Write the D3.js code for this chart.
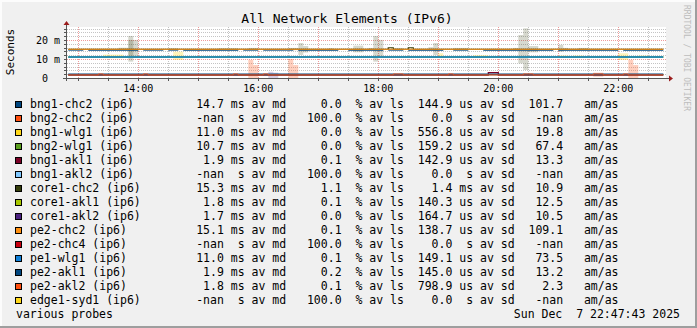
<!DOCTYPE html>
<html>
<head>
<meta charset="utf-8">
<script src="https://cdn.jsdelivr.net/npm/d3@7"></script>
<style>
body{margin:0;background:#f0f0f0;}
text{font-family:'DejaVu Sans Mono',monospace;white-space:pre;}
</style>
</head>
<body>
<script>
const W=697,H=328;

// legend table
const hosts=["bng1-chc2","bng2-chc2","bng1-wlg1","bng2-wlg1","bng1-akl1","bng1-akl2","core1-chc2","core1-akl1","core1-akl2","pe2-chc2","pe2-chc4","pe1-wlg1","pe2-akl1","pe2-akl2","edge1-syd1"];
const medians=["14.7","-nan","11.0","10.7","1.9","-nan","15.3","1.8","1.7","15.1","-nan","11.0","1.9","1.8","-nan"];
const medUnits=["ms","s","ms","ms","ms","s","ms","ms","ms","ms","s","ms","ms","ms","s"];
const losses=["0.0","100.0","0.0","0.0","0.1","100.0","1.1","0.1","0.0","0.1","100.0","0.1","0.2","0.1","100.0"];
const sds=["144.9","0.0","556.8","159.2","142.9","0.0","1.4","140.3","164.7","138.7","0.0","149.1","145.0","798.9","0.0"];
const sdUnits=["us","s","us","us","us","s","ms","us","us","us","s","us","us","us","s"];
const amas=["101.7","-nan","19.8","67.4","13.3","-nan","10.9","12.5","10.5","109.1","-nan","73.5","13.2","2.3","-nan"];
const colors=["#00467f","#ff4f0f","#ffd81a","#5a9e1e","#7a0026","#80c8ff","#333d0a","#a8c800","#4a2080","#ff9010","#c8000f","#1080d8","#00467f","#ff4f0f","#ffd81a"];

const timeTicks=["14:00","16:00","18:00","20:00","22:00"];
const yTicks=[0,10,20];
const yTickLabels=["0  ","10 m","20 m"];

// median lines: [time, ms] change points, null = no data
const END="22:45";
const medBng1Chc2=[["12:50",14.7],["13:05",null],["13:10",14.7],["14:00",null],["14:05",14.7],["14:25",null],["14:30",14.7],["14:40",null],["14:45",14.7],["15:40",null],["15:45",14.7],["16:00",null],["16:05",14.7],["16:35",null],["16:40",14.7],["17:20",null],["17:30",14.7],["18:05",null],["18:10",14.7],["18:25",null],["18:30",14.7],["19:05",null],["19:15",14.7],["19:30",null],["19:45",14.7],["20:55",null],["21:00",14.7],["22:00",null],["22:05",14.7]];
const medBng1Wlg1=[["12:50",11.0]];
const medBng2Wlg1=[["12:50",11.0]];
const medBng1Akl1=[["12:50",1.45],["19:50",2.8],["20:00",1.45]];
const medCore1Chc2=[["12:50",15.1],["18:10",15.9],["18:15",15.1],["18:30",15.9],["18:35",15.1]];
const medCore1Akl1=[["12:50",1.8]];
const medCore1Akl2=[["12:50",1.7]];
const medPe2Chc2=[["12:50",15.1]];
const medPe1Wlg1=[["12:50",11.0]];
const medPe2Akl1=[["12:50",2.0]];
const medPe2Akl2=[["12:50",1.65],["13:20",2.1],["13:25",1.65],["14:05",2.1],["14:10",1.65],["15:35",2.1],["15:40",1.65],["16:05",2.1],["16:10",1.65],["18:15",2.1],["18:25",1.65],["19:10",2.1],["19:15",1.65],["20:25",2.1],["20:35",1.65],["21:35",2.1],["21:45",1.65],["22:05",2.1],["22:10",1.65]];
const medians_data=[medBng1Chc2,null,medBng1Wlg1,medBng2Wlg1,medBng1Akl1,null,medCore1Chc2,medCore1Akl1,medCore1Akl2,medPe2Chc2,null,medPe1Wlg1,medPe2Akl1,medPe2Akl2,null];
const widths=[1.2,1.2,1.4,1.4,1.2,1.2,1.2,1.2,1.2,1.2,1.2,1.6,1.2,0.9,1.2];

// smoke bands: [start, end, low ms, high ms]
const smokeCore1Chc2=[["13:40","13:50",14.7,15.9],["13:50","14:00",10.5,20.0],["13:50","13:55",8.6,22.1],["14:30","14:40",14.7,15.6],["15:20","15:40",14.7,15.6],["15:50","16:00",14.8,15.8],["16:30","16:40",14.6,15.8],["16:40","16:45",12.1,18.4],["16:45","16:50",13.4,16.8],["17:10","17:15",14.6,15.6],["17:35","17:45",13.5,17.0],["17:50","17:55",14.6,15.8],["17:55","18:00",8.6,22.1],["18:00","18:05",10.5,20.0],["18:15","18:25",14.6,15.8],["18:50","18:55",14.6,16.2],["18:55","19:00",12.0,18.4],["19:15","19:30",14.6,15.8],["20:15","20:20",14.6,15.8],["20:20","20:25",7.7,22.6],["20:25","20:30",4.2,26.1],["20:30","20:40",13.5,16.8],["21:00","21:05",13.8,17.4],["21:05","21:10",14.6,15.8],["21:20","21:30",14.6,15.8]];
const smokeBng1Wlg1=[["13:25","13:45",10.4,12.3],["14:35","14:45",9.5,13.8],["14:50","15:00",10.5,11.5],["15:00","15:05",10.5,11.6],["15:25","15:30",10.5,11.6],["18:35","18:50",10.8,11.3],["19:00","19:05",10.5,13.0],["19:35","19:50",10.5,12.0],["21:00","21:10",10.6,11.8],["21:15","21:25",10.6,11.8],["22:00","22:10",9.5,13.0],["22:20","22:30",10.6,11.8]];
const smokePe2Akl2=[["15:50","15:55",0,9.5],["15:55","16:00",0,6.8],["16:30","16:35",0,10.0],["16:35","16:40",0,6.8],["21:35","21:45",0.7,2.8],["22:10","22:15",0,9.5],["22:15","22:20",0,6.8]];
const smokeCore1Akl2=[["16:10","16:15",0,3.3],["16:15","16:20",0,2.8]];
const smokes=[[smokeCore1Chc2,6,0.2],[smokeBng1Wlg1,2,0.3],[smokePe2Akl2,13,0.27],[smokeCore1Akl2,8,0.22]];

const tm=s=>new Date(2025,11,7,+s.slice(0,2),+s.slice(3));

const svg=d3.select('body').append('svg').attr('width',W).attr('height',H);
svg.append('rect').attr('width',W).attr('height',H).attr('fill','#f0f0f0');
svg.append('rect').attr('width',W).attr('height',2).attr('fill','#fcfcfc');
svg.append('rect').attr('width',2).attr('height',H).attr('fill','#fcfcfc');
svg.append('rect').attr('y',H-2).attr('width',W).attr('height',2).attr('fill','#9e9e9e');
svg.append('rect').attr('x',W-2).attr('width',2).attr('height',H).attr('fill','#9e9e9e');

const x=d3.scaleTime().domain([new Date(2025,11,7,12,47,43),new Date(2025,11,7,22,47,43)]).range([66,666]);
const y=d3.scaleLinear().domain([0,26.8]).range([78,27]);

svg.append('rect').attr('x',67).attr('y',27).attr('width',599).attr('height',51).attr('fill','#ffffff');

// grid
const minorT=d3.timeMinute.every(30).range(x.domain()[0],x.domain()[1]).filter(d=>d.getMinutes()===30);
const majorT=d3.timeHour.range(x.domain()[0],x.domain()[1]);
svg.append('g').selectAll('line').data(minorT).join('line')
  .attr('x1',d=>Math.round(x(d))+0.5).attr('x2',d=>Math.round(x(d))+0.5).attr('y1',27).attr('y2',78)
  .attr('stroke','#c4c4c4').attr('stroke-dasharray','1,1');
const minorY=d3.range(2,27,2).filter(v=>v%10!==0);
svg.append('g').selectAll('line').data(minorY).join('line')
  .attr('x1',67).attr('x2',666).attr('y1',d=>Math.round(y(d))+0.5).attr('y2',d=>Math.round(y(d))+0.5)
  .attr('stroke','#c4c4c4').attr('stroke-dasharray','1,1');
svg.append('g').selectAll('line').data(majorT).join('line')
  .attr('x1',d=>Math.round(x(d))+0.5).attr('x2',d=>Math.round(x(d))+0.5).attr('y1',27).attr('y2',78)
  .attr('stroke','#f09a9a').attr('stroke-dasharray','1,1');
svg.append('g').selectAll('line').data([10,20]).join('line')
  .attr('x1',67).attr('x2',666).attr('y1',d=>Math.round(y(d))+0.5).attr('y2',d=>Math.round(y(d))+0.5)
  .attr('stroke','#f09a9a').attr('stroke-dasharray','1,1');

// smoke
smokes.forEach(([bands,ci,op])=>{
  svg.append('g').selectAll('rect').data(bands).join('rect')
    .attr('x',d=>x(tm(d[0]))).attr('width',d=>x(tm(d[1]))-x(tm(d[0])))
    .attr('y',d=>y(d[3])).attr('height',d=>y(d[2])-y(d[3]))
    .attr('fill',colors[ci]).attr('fill-opacity',op);
});

// median lines
function runs(ch){
  const out=[];let cur=null;
  ch.forEach((c,i)=>{
    const t0=tm(c[0]),t1=tm(i<ch.length-1?ch[i+1][0]:END);
    if(c[1]==null){cur=null;return;}
    if(!cur){cur=[];out.push(cur);}
    cur.push([t0,c[1]],[t1,c[1]]);
  });
  return out;
}
const line=d3.line().x(d=>x(d[0])).y(d=>y(d[1]));
medians_data.forEach((ch,i)=>{
  if(!ch) return;
  svg.append('g').selectAll('path').data(runs(ch)).join('path')
    .attr('d',line).attr('fill','none').attr('stroke',colors[i]).attr('stroke-width',widths[i]);
});

// axes
svg.append('line').attr('x1',63).attr('x2',669).attr('y1',78.5).attr('y2',78.5).attr('stroke','#555').attr('stroke-width',1);
svg.append('line').attr('x1',66.5).attr('x2',66.5).attr('y1',81).attr('y2',25).attr('stroke','#555').attr('stroke-width',1);
svg.append('path').attr('d','M669,75.5L673,78.5L669,81.5Z').attr('fill','#9b1c1c');
svg.append('path').attr('d','M63.5,25L66.5,21L69.5,25Z').attr('fill','#9b1c1c');
svg.append('g').selectAll('line').data(minorY.concat([10,20])).join('line')
  .attr('x1',64).attr('x2',66).attr('y1',d=>Math.round(y(d))+0.5).attr('y2',d=>Math.round(y(d))+0.5).attr('stroke','#555');
svg.append('g').selectAll('line').data(minorT.concat(majorT)).join('line')
  .attr('x1',d=>Math.round(x(d))+0.5).attr('x2',d=>Math.round(x(d))+0.5).attr('y1',79).attr('y2',81).attr('stroke','#555');

svg.append('g').selectAll('text').data(timeTicks).join('text')
  .attr('x',d=>x(tm(d))).attr('y',91.5).attr('text-anchor','middle').attr('font-size',10).attr('fill','#000').text(d=>d);
svg.append('g').selectAll('text').data(yTicks).join('text')
  .attr('x',60).attr('y',d=>y(d)+3.6).attr('text-anchor','end').attr('font-size',10).attr('fill','#000').text((d,i)=>yTickLabels[i]);

svg.append('text').attr('transform','translate(14,52) rotate(-90)').attr('text-anchor','middle')
  .attr('font-size',11).attr('fill','#000').text('Seconds');
svg.append('text').attr('x',347).attr('y',23.3).attr('text-anchor','middle').attr('font-size',13).attr('fill','#000')
  .text('All Network Elements (IPv6)');
svg.append('text').attr('transform','translate(684,5) rotate(90)').attr('font-size',8).attr('fill','#bdbdbd')
  .text('RRDTOOL / TOBI OETIKER');

// legend
const rows=hosts.map((h,i)=>
  h.concat(' (ip6)').padEnd(24)+medians[i].padStart(4)+' '+medUnits[i].padStart(2)+' av md'+
  losses[i].padStart(8)+'  % av ls'+sds[i].padStart(7)+' '+sdUnits[i].padStart(2)+' av sd'+
  amas[i].padStart(7)+'   am/as');
const lg=svg.append('g');
lg.selectAll('rect').data(hosts).join('rect')
  .attr('x',15.5).attr('y',(d,i)=>101.5+14*i).attr('width',6).attr('height',6)
  .attr('fill',(d,i)=>colors[i]).attr('stroke','#000').attr('stroke-width',1);
lg.selectAll('text').data(rows).join('text')
  .attr('x',30).attr('y',(d,i)=>108.3+14*i).attr('font-size',11.5).attr('fill','#000').text(d=>d);
svg.append('text').attr('x',16).attr('y',318.3).attr('font-size',11.5).attr('fill','#000').text('various probes');
svg.append('text').attr('x',680).attr('y',318.3).attr('text-anchor','end').attr('font-size',11.5).attr('fill','#000')
  .text('Sun Dec  7 22:47:43 2025');
</script>
</body>
</html>
